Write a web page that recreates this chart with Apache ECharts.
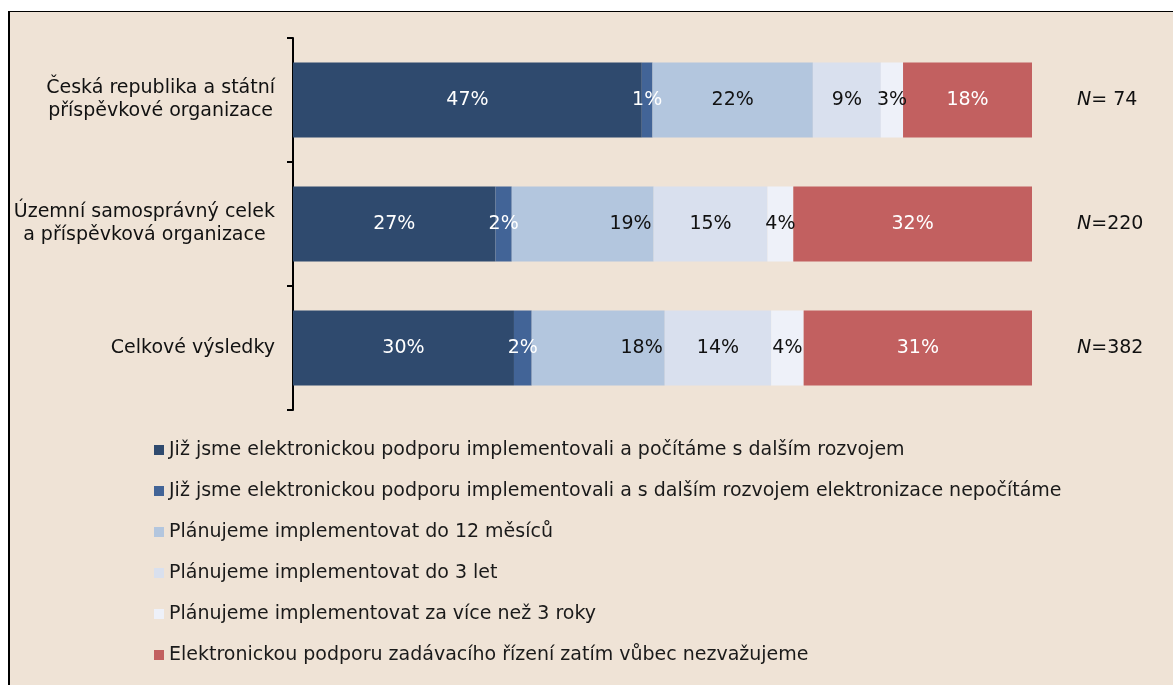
<!DOCTYPE html>
<html>
<head>
<meta charset="utf-8">
<script src="https://cdn.jsdelivr.net/npm/echarts@6/dist/echarts.min.js"></script>
<style>
html, body { margin: 0; padding: 0; background: #fff; }
#frame { position: absolute; left: 8px; top: 11px; right: 0; bottom: 0; background: #efe3d6; border-left: 2px solid #000; border-top: 1px solid #000; }
#chart { position: absolute; left: 0; top: 0; width: 1173px; height: 685px; }
</style>
</head>
<body>
<div id="frame"></div>
<div id="chart"></div>
<script>
var font = '"DejaVu Sans", sans-serif';
var fs = 19;

// kategorie (odshora dolu)
var categories = [
	'Česká republika a státní\npříspěvkové organizace',
	'Územní samosprávný celek\na příspěvková organizace',
	'Celkové výsledky'
];
var nLabels = ['74', '220', '382'];

var seriesNames = [
	'Již jsme elektronickou podporu implementovali a počítáme s dalším rozvojem',
	'Již jsme elektronickou podporu implementovali a s dalším rozvojem elektronizace nepočítáme',
	'Plánujeme implementovat do 12 měsíců',
	'Plánujeme implementovat do 3 let',
	'Plánujeme implementovat za více než 3 roky',
	'Elektronickou podporu zadávacího řízení zatím vůbec nezvažujeme'
];
var colors = ['#2f4a6e', '#426497', '#b3c6de', '#d9e0ee', '#eef1f9', '#c26060'];
var labelColors = ['#fff', '#fff', '#111', '#111', '#111', '#fff'];

// podíly v % pro jednotlivé kategorie
var s1 = [47.2, 27.4, 29.9];
var s2 = [1.45, 2.2, 2.4];
var s3 = [21.7, 19.2, 18.0];
var s4 = [9.2, 15.4, 14.4];
var s5 = [3.0, 3.5, 4.4];
var s6 = [17.5, 32.3, 30.9];
var values = [s1, s2, s3, s4, s5, s6];

var myChart = echarts.init(document.getElementById('chart'));

var series = [];
for (var i = 0; i < values.length; i++) {
	var data = values[i].map(function(v, j) {
		// v originále jsou popisky 19 % a 18 % posunuté doprava
		if (i === 2 && j > 0) {
			return { value: v, label: { position: 'insideRight', distance: 2 } };
		}
		return v;
	});
	series.push({
		name: seriesNames[i],
		type: 'bar',
		stack: 'total',
		barWidth: 75,
		data: data,
		itemStyle: { color: colors[i] },
		label: {
			show: true,
			position: 'inside',
			color: labelColors[i],
			fontFamily: font,
			fontSize: fs,
			formatter: function(p) {
				return Math.round(p.value) + '%';
			}
		}
	});
}

var option = {
	animation: false,
	textStyle: { fontFamily: font },
	grid: {
		left: 293,
		right: 141,
		top: 38,
		bottom: 275,
		containLabel: false
	},
	legend: {
		orient: 'vertical',
		left: 149,
		top: 435,
		icon: 'rect',
		itemWidth: 10,
		itemHeight: 10,
		itemGap: 21,
		textStyle: {
			color: '#1a1a1a',
			fontFamily: font,
			fontSize: fs,
			lineHeight: 20
		},
		data: seriesNames
	},
	xAxis: {
		type: 'value',
		min: 0,
		max: 100,
		show: false
	},
	yAxis: [{
		type: 'category',
		inverse: true,
		data: categories,
		axisLine: { show: true, lineStyle: { color: '#000', width: 2 } },
		axisTick: { show: true, length: 6, lineStyle: { color: '#000', width: 2 } },
		axisLabel: {
			margin: 18,
			align: 'right',
			color: '#111',
			fontFamily: font,
			fontSize: fs,
			formatter: function(v) {
				return v.split('\n').map(function(l) { return '{c|' + l + '}'; }).join('\n');
			},
			rich: {
				c: { align: 'center', fontSize: fs, lineHeight: 23, color: '#111', fontFamily: font }
			}
		}
	}, {
		type: 'category',
		inverse: true,
		position: 'right',
		data: nLabels,
		axisLine: { show: false },
		axisTick: { show: false },
		axisLabel: {
			margin: 45,
			align: 'left',
			formatter: function(v) {
				return '{i|N}{n|=' + (v.length < 3 ? ' ' : '') + v + '}';
			},
			rich: {
				i: { fontStyle: 'italic', fontSize: fs, color: '#111', fontFamily: font },
				n: { fontSize: fs, color: '#111', fontFamily: font }
			}
		}
	}],
	series: series
};
myChart.setOption(option);
</script>
</body>
</html>
